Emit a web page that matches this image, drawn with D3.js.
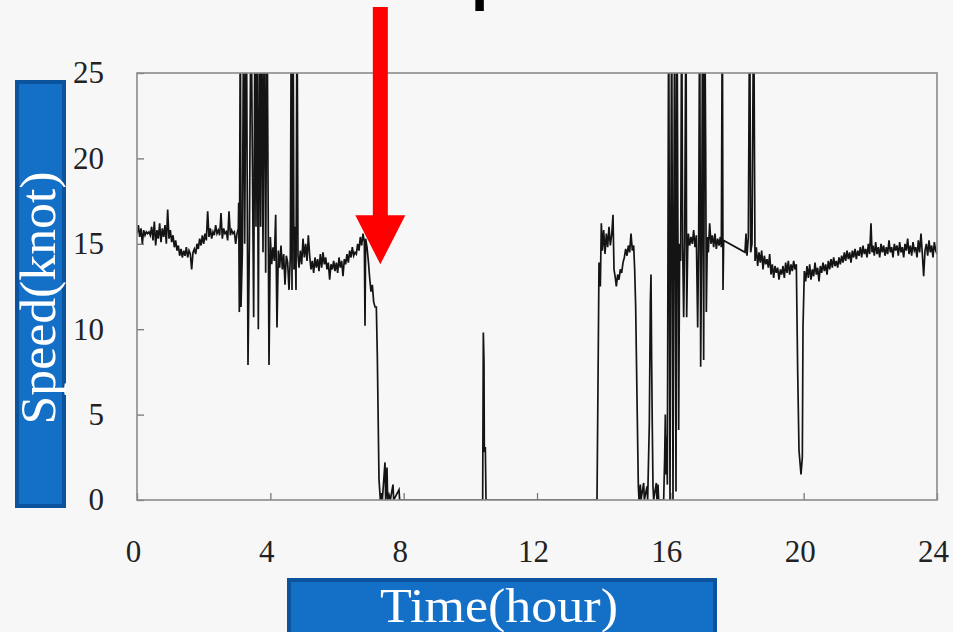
<!DOCTYPE html>
<html>
<head>
<meta charset="utf-8">
<script src="https://cdn.jsdelivr.net/npm/d3@7"></script>
<style>
  html, body { margin: 0; padding: 0; background: #f7f7f7; }
  svg { display: block; }
</style>
</head>
<body>
<svg id="chart" width="953" height="632"></svg>
<script>
// Axis tick values
const hourTicks = [0, 4, 8, 12, 16, 20, 24];
const knotTicks = [0, 5, 10, 15, 20, 25];

// Logged ship speed: [hour, knot]; values of 30 run off the top of the plot
const speedLog = [
  [0.00,15.6],[0.04,16.1],[0.08,15.4],[0.12,15.9],[0.16,15.0],[0.20,15.8],[0.24,15.5],[0.28,15.7],
  [0.32,15.6],[0.36,15.7],[0.40,15.5],[0.44,16.0],[0.48,15.2],[0.52,16.3],[0.56,14.9],[0.60,15.8],
  [0.64,15.3],[0.68,16.2],[0.72,15.1],[0.76,15.9],[0.80,15.4],[0.84,16.1],[0.88,15.0],[0.92,17.0],
  [0.96,15.3],[1.00,15.8],[1.04,15.1],[1.08,15.5],[1.12,14.8],[1.16,15.2],[1.20,14.6],[1.24,14.9],
  [1.28,14.3],[1.32,14.7],[1.36,14.2],[1.40,14.6],[1.44,14.3],[1.48,14.8],[1.52,14.2],[1.56,14.6],
  [1.60,14.4],[1.64,13.5],[1.68,14.5],[1.72,14.7],[1.76,14.4],[1.80,15.0],[1.84,14.7],[1.88,15.3],
  [1.92,14.9],[1.96,15.5],[2.00,15.0],[2.04,15.6],[2.08,15.2],[2.12,16.9],[2.16,15.4],[2.20,15.9],
  [2.24,15.3],[2.28,15.7],[2.32,15.5],[2.36,16.1],[2.40,15.6],[2.44,15.8],[2.48,15.5],[2.52,16.8],
  [2.56,15.3],[2.60,15.9],[2.64,15.6],[2.68,15.7],[2.72,15.2],[2.76,16.9],[2.80,15.5],[2.84,15.8],
  [2.88,15.6],[2.92,15.7],[2.96,15.0],[3.00,15.6],[3.04,15.9],
  [3.05,17.4],[3.07,11.0],[3.10,30],[3.12,11.3],[3.16,14.5],[3.20,30],[3.23,15.0],[3.28,30],
  [3.33,7.9],[3.37,14.8],[3.42,30],[3.50,10.7],[3.54,30],[3.57,16.0],[3.60,30],[3.64,10.0],
  [3.68,30],[3.71,16.0],[3.74,30],[3.78,14.5],[3.82,30],[3.86,13.3],[3.90,30],[3.96,7.9],
  [4.00,15.4],[4.04,13.8],[4.08,14.8],[4.12,14.0],[4.16,16.7],[4.20,10.1],[4.24,14.6],[4.28,13.6],
  [4.32,14.9],[4.36,13.5],[4.40,14.4],[4.44,12.6],[4.48,14.3],[4.52,13.9],[4.56,12.3],[4.60,14.2],
  [4.63,30],[4.65,12.3],[4.68,30],[4.71,13.5],[4.74,16.0],[4.77,12.3],[4.80,30],[4.83,14.3],
  [4.86,13.6],[4.90,14.6],
  [4.94,13.8],[4.98,15.3],[5.02,14.2],[5.06,15.0],[5.10,14.0],[5.14,15.5],[5.18,14.3],[5.22,13.5],
  [5.26,14.0],[5.30,13.3],[5.34,14.2],[5.38,13.6],[5.42,14.1],[5.46,13.4],[5.50,14.4],[5.54,13.6],
  [5.58,14.5],[5.62,13.8],[5.66,14.2],[5.70,13.5],[5.74,13.9],[5.78,12.9],[5.82,13.8],[5.86,13.5],
  [5.90,14.0],[5.94,13.4],[5.98,13.9],[6.02,13.3],[6.06,14.2],[6.10,13.6],[6.14,14.0],[6.18,13.1],
  [6.22,14.1],[6.26,13.8],[6.30,14.4],[6.34,13.9],[6.38,14.6],[6.42,14.2],[6.46,14.8],[6.50,14.3],
  [6.54,14.5],[6.58,14.4],[6.62,15.0],[6.66,14.6],[6.70,15.4],[6.74,14.9],[6.78,15.6],[6.82,15.1],
  [6.84,10.2],[6.86,15.3],[6.90,14.8],[6.94,14.0],[6.98,13.0],[7.02,12.2],[7.06,12.6],[7.10,11.6],
  [7.14,11.3],[7.18,11.3],[7.21,8.4],[7.26,1.2],[7.30,0],
  [7.34,0.4],[7.36,0],[7.44,2.2],[7.46,0],[7.50,1.9],[7.52,0],[7.56,0.3],[7.60,0],[7.68,0.9],
  [7.70,0],[7.86,0.6],[7.88,0],
  [10.37,0],[10.39,9.8],[10.41,8.1],[10.42,2.8],[10.45,3.1],[10.47,0],
  [13.80,0],[13.83,6.8],[13.86,13.9],[13.90,12.5],[13.93,16.2],[13.96,14.6],[14.00,15.8],[14.04,14.4],
  [14.08,15.6],[14.12,14.8],[14.16,16.0],[14.20,14.9],[14.24,15.5],[14.28,16.7],[14.31,13.5],[14.35,13.0],
  [14.38,12.5],[14.42,13.2],[14.46,12.9],[14.50,13.5],[14.54,13.3],[14.58,13.9],[14.62,14.2],[14.66,14.7],
  [14.70,14.3],[14.74,14.9],[14.78,14.5],[14.82,15.6],[14.86,14.6],[14.90,14.9],[14.93,13.5],[14.96,11.3],
  [15.00,6.0],[15.04,0.8],[15.06,0],
  [15.10,0.9],[15.12,0],[15.20,1.0],[15.22,0],[15.30,0.8],[15.32,0],[15.37,4.5],[15.40,11.5],
  [15.42,13.2],[15.44,8.0],[15.46,4.1],[15.48,0.8],[15.50,0],[15.58,1.0],[15.60,0],[15.63,0.9],
  [15.65,0],[15.80,0],[15.83,2.5],[15.85,5.0],[15.87,1.5],[15.89,3.7],[15.91,0.9],[15.95,30],
  [15.99,0],[16.04,30],[16.08,0],[16.13,30],[16.17,0.5],[16.20,30],[16.25,4.1],
  [16.28,15.0],[16.31,14.0],[16.34,30],[16.37,14.8],[16.40,10.7],[16.43,15.2],[16.47,30],[16.49,10.7],
  [16.52,14.6],[16.54,15.6],[16.58,14.9],[16.62,15.4],[16.66,15.0],[16.70,15.8],[16.74,14.8],[16.78,15.5],
  [16.82,10.1],[16.85,15.2],[16.88,30],[16.91,7.8],[16.94,15.0],[16.97,30],[17.00,8.2],[17.03,30],
  [17.06,20.6],[17.08,11.0],[17.11,15.4],[17.14,14.5],[17.18,16.2],[17.22,15.0],[17.26,15.5],[17.30,14.8],
  [17.34,15.6],[17.38,14.7],[17.42,15.3],[17.46,14.9],[17.50,15.4],[17.53,14.8],[17.56,30],[17.58,12.3],
  [17.60,15.2],
  [18.24,14.5],[18.27,15.6],[18.30,14.3],[18.34,15.4],[18.38,30],[18.41,14.5],[18.45,15.0],[18.50,30],
  [18.54,14.0],[18.58,14.8],[18.62,13.7],[18.66,14.5],[18.70,13.9],[18.74,14.6],[18.78,13.5],[18.82,14.3],
  [18.86,13.8],[18.90,14.1],[18.94,13.6],[18.98,14.4],[19.02,13.2],[19.06,13.8],[19.10,13.0],[19.14,13.7],
  [19.18,13.3],[19.22,13.6],[19.26,12.9],[19.30,13.5],[19.34,13.2],[19.38,13.7],[19.42,13.0],[19.46,13.9],
  [19.50,13.3],[19.54,14.0],[19.58,13.2],[19.62,13.8],[19.66,13.4],[19.70,14.0],[19.74,13.5],[19.78,13.8],
  [19.82,7.6],[19.86,2.9],[19.92,1.5],[19.96,2.5],[19.98,10.1],[20.02,13.4],[20.06,12.8],[20.10,13.7],
  [20.14,13.0],[20.18,13.8],[20.22,12.9],[20.26,13.5],[20.30,13.1],[20.34,13.9],[20.38,13.2],[20.42,13.6],
  [20.46,12.8],[20.50,13.7],[20.54,13.3],[20.58,13.9],[20.62,13.4],[20.66,13.8],[20.70,13.2],[20.74,14.0],
  [20.78,13.5],[20.82,14.1],[20.86,13.6],[20.90,14.2],[20.94,13.7],[20.98,14.0],[21.02,13.6],[21.06,14.2],
  [21.10,13.8],[21.14,14.3],[21.18,13.9],[21.22,14.5],[21.26,14.0],[21.30,14.6],[21.34,14.1],[21.38,14.5],
  [21.42,13.9],[21.46,14.6],[21.50,14.2],[21.54,14.7],[21.58,14.1],[21.62,14.6],[21.66,14.3],[21.70,14.8],
  [21.74,14.2],[21.78,14.9],[21.82,14.4],[21.86,14.7],[21.90,14.2],[21.94,15.0],[21.98,14.4],[22.02,16.2],
  [22.05,14.5],[22.08,14.9],[22.12,14.3],[22.16,15.1],[22.20,14.4],[22.24,14.8],[22.28,14.2],[22.32,15.0],
  [22.36,14.5],[22.40,14.9],[22.44,14.3],[22.48,14.8],[22.52,14.4],[22.56,15.2],[22.60,14.5],[22.64,14.8],
  [22.68,14.2],[22.72,15.0],[22.76,14.6],[22.80,14.9],[22.84,14.3],[22.88,15.1],[22.92,14.5],[22.96,14.8],
  [23.00,14.2],[23.04,15.0],[23.08,14.6],[23.12,15.3],[23.16,14.4],[23.20,14.9],[23.24,14.3],[23.28,15.1],
  [23.32,14.6],[23.36,14.8],[23.40,14.2],[23.44,15.2],[23.48,14.5],[23.52,15.6],[23.56,14.4],[23.60,13.1],
  [23.64,14.6],[23.68,15.0],[23.72,14.3],[23.76,15.2],[23.80,14.5],[23.84,14.9],[23.88,14.2],[23.92,15.1],
  [23.96,14.6],[24.00,14.4]
];

// Where the red arrow points (hour, knot)
const arrowHour = 7.3;
const arrowKnot = 13.8;

const W = 953, H = 632;
const plot = { left: 137, right: 937, top: 73, bottom: 500 };
const serif = "'Liberation Serif', 'Times New Roman', serif";

const svg = d3.select("#chart");
svg.append("rect").attr("width", W).attr("height", H).attr("fill", "#f7f7f7");

const x = d3.scaleLinear().domain([0, 24]).range([plot.left, plot.right]);
const y = d3.scaleLinear().domain([0, 25]).range([plot.bottom, plot.top]);

// Clip for the trace
svg.append("defs").append("clipPath").attr("id", "plotClip")
  .append("rect")
  .attr("x", plot.left).attr("y", plot.top)
  .attr("width", plot.right - plot.left).attr("height", plot.bottom - plot.top);

// Bottom axis (inward ticks, labels below)
const xAxis = svg.append("g")
  .attr("transform", `translate(0,${plot.bottom})`)
  .call(d3.axisBottom(x).tickValues(hourTicks).tickSizeInner(-7).tickSizeOuter(0).tickPadding(40));
xAxis.select(".domain").remove();
xAxis.selectAll(".tick line").attr("stroke", "#777").attr("stroke-width", 1.3);
xAxis.selectAll(".tick text")
  .attr("font-family", serif).attr("font-size", 31).attr("fill", "#222")
  .attr("dx", -4);

// Left axis
const yAxis = svg.append("g")
  .attr("transform", `translate(${plot.left},0)`)
  .call(d3.axisLeft(y).tickValues(knotTicks).tickSizeInner(-7).tickSizeOuter(0).tickPadding(33));
yAxis.select(".domain").remove();
yAxis.selectAll(".tick line").attr("stroke", "#777").attr("stroke-width", 1.3);
yAxis.selectAll(".tick text")
  .attr("font-family", serif).attr("font-size", 31).attr("fill", "#222");

// Speed trace
const line = d3.line().x(d => x(d[0])).y(d => y(d[1]));
svg.append("path")
  .datum(speedLog)
  .attr("clip-path", "url(#plotClip)")
  .attr("d", line)
  .attr("fill", "none")
  .attr("stroke", "#141414")
  .attr("stroke-width", 1.7)
  .attr("stroke-linejoin", "miter");

// Plot frame
svg.append("rect")
  .attr("x", plot.left).attr("y", plot.top)
  .attr("width", plot.right - plot.left).attr("height", plot.bottom - plot.top)
  .attr("fill", "none").attr("stroke", "#8a8a8a").attr("stroke-width", 1.6);

// Y-axis title box
svg.append("rect")
  .attr("x", 17).attr("y", 82).attr("width", 47).attr("height", 424)
  .attr("fill", "#1470c6").attr("stroke", "#0c539e").attr("stroke-width", 4);
svg.append("text")
  .attr("transform", "translate(55,298) rotate(-90)")
  .attr("text-anchor", "middle")
  .attr("font-family", serif).attr("font-size", 50).attr("fill", "#ffffff")
  .attr("textLength", 253).attr("lengthAdjust", "spacingAndGlyphs")
  .text("Speed(knot)");

// X-axis title box
svg.append("rect")
  .attr("x", 289).attr("y", 580).attr("width", 426).attr("height", 60)
  .attr("fill", "#1470c6").attr("stroke", "#0c539e").attr("stroke-width", 4);
svg.append("text")
  .attr("x", 499).attr("y", 622)
  .attr("text-anchor", "middle")
  .attr("font-family", serif).attr("font-size", 48).attr("fill", "#ffffff")
  .attr("textLength", 238).attr("lengthAdjust", "spacingAndGlyphs")
  .text("Time(hour)");

// Heading above the chart (runs off the top edge)
svg.append("text")
  .attr("x", 471).attr("y", -2)
  .attr("font-family", "'Liberation Sans', Arial, sans-serif")
  .attr("font-size", 62).attr("font-weight", "bold").attr("fill", "#000")
  .text("p");

// Red arrow pointing at the drop in speed
const tipX = x(arrowHour), tipY = y(arrowKnot);
const arrow = d3.path();
arrow.moveTo(tipX - 7.5, 7);
arrow.lineTo(tipX + 7.5, 7);
arrow.lineTo(tipX + 7.5, tipY - 49);
arrow.lineTo(tipX + 25, tipY - 49);
arrow.lineTo(tipX, tipY);
arrow.lineTo(tipX - 25, tipY - 49);
arrow.lineTo(tipX - 7.5, tipY - 49);
arrow.closePath();
svg.append("path").attr("d", arrow.toString()).attr("fill", "#ff0000");
</script>
</body>
</html>
